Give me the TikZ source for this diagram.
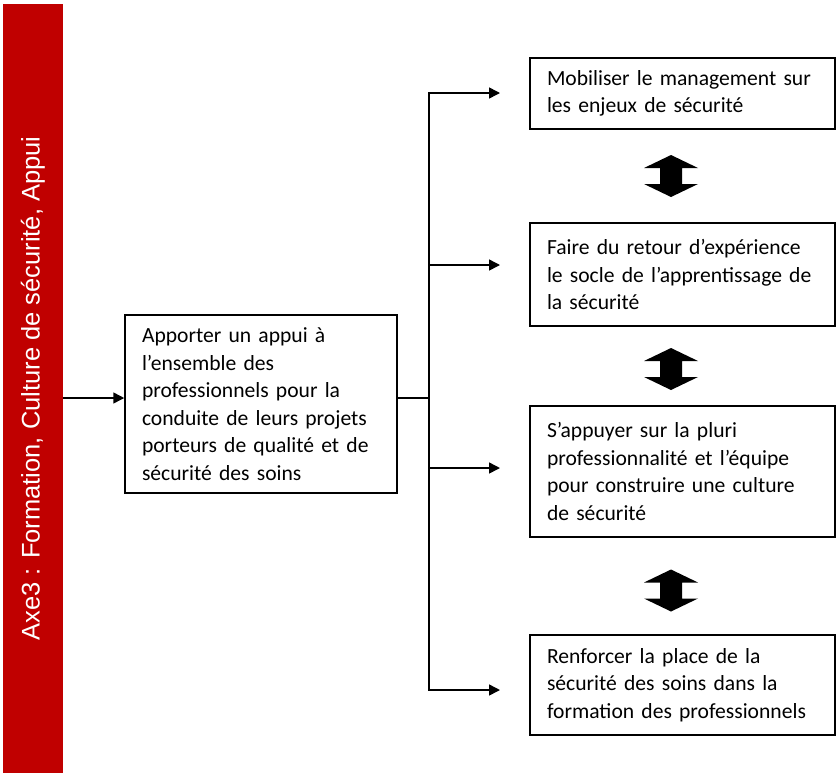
\documentclass[tikz,border=0pt]{standalone}
\usepackage{fontspec}
\newfontfamily\boxfont{Carlito}
\newfontfamily\axefont{Liberation Sans}
\usetikzlibrary{arrows.meta}
\definecolor{axered}{RGB}{192,0,0}
\tikzset{
  box/.style={draw, line width=1.5pt, align=left, inner xsep=17pt, inner ysep=0pt,
    font=\boxfont\fontsize{21.6}{27.5}\selectfont},
  axebar/.style={fill=axered, text=white, inner sep=0pt,
    font=\axefont\fontsize{25.5}{30}\selectfont},
  tri/.tip={Triangle[length=11pt,width=11pt]},
  arr/.style={line width=1.5pt, -tri},
  updown/.pic={\fill (0,-21) -- (27,-8) -- (11,-8) -- (11,8) -- (27,8) -- (0,21)
    -- (-27,8) -- (-11,8) -- (-11,-8) -- (-27,-8) -- cycle;}
}

\begin{document}
\begin{tikzpicture}[x=1pt, y=-1pt]
    \useasboundingbox (0,0) rectangle (837,774);
    % red side bar
    \node[axebar, rotate=90, minimum width=769pt, minimum height=60pt] (axe) at (33,388.5)
        {Axe3 : Formation, Culture de sécurité, Appui};
    % main box
    \node[box, text width=238pt, minimum height=178pt] (main) at (261,404)
        {Apporter un appui à\\ l’ensemble des\\ professionnels pour la\\ conduite de leurs projets\\ porteurs de qualité et de\\ sécurité des soins};
    % right boxes
    \node[box, text width=271pt, minimum height=71pt] (b1) at (682.5,93.5)
        {Mobiliser le management sur\\ les enjeux de sécurité};
    \node[box, text width=271pt, minimum height=103pt] (b2) at (682.5,274.5)
        {Faire du retour d’expérience\\ le socle de l’apprentissage de\\ la sécurité};
    \node[box, text width=271pt, minimum height=131pt] (b3) at (682.5,471.5)
        {S’appuyer sur la pluri\\ professionnalité et l’équipe\\ pour construire une culture\\ de sécurité};
    \node[box, text width=271pt, minimum height=100pt] (b4) at (682.5,685)
        {Renforcer la place de la\\ sécurité des soins dans la\\ formation des professionnels};
    % double arrows between boxes
    \pic (da1) at (671,176) {updown};
    \pic (da2) at (671,369) {updown};
    \pic (da3) at (671,590.5) {updown};
    % connectors
    \coordinate (in) at (63,398);
    \draw[arr] (in) -- (in -| main.west);
    \coordinate (split) at (429,398);
    \draw[line width=1.5pt] (main.east |- split) -- (split);
    \foreach \y/\n in {93/1,265/2,468/3,690/4} {
        \coordinate (j\n) at (429,\y);
        \coordinate (t\n) at (500,\y);
    }
    \draw[line width=1.5pt, tri-tri] (t1) -- (j1) -- (j4) -- (t4);
    \draw[arr] (j2) -- (t2);
    \draw[arr] (j3) -- (t3);
\end{tikzpicture}
\end{document}
